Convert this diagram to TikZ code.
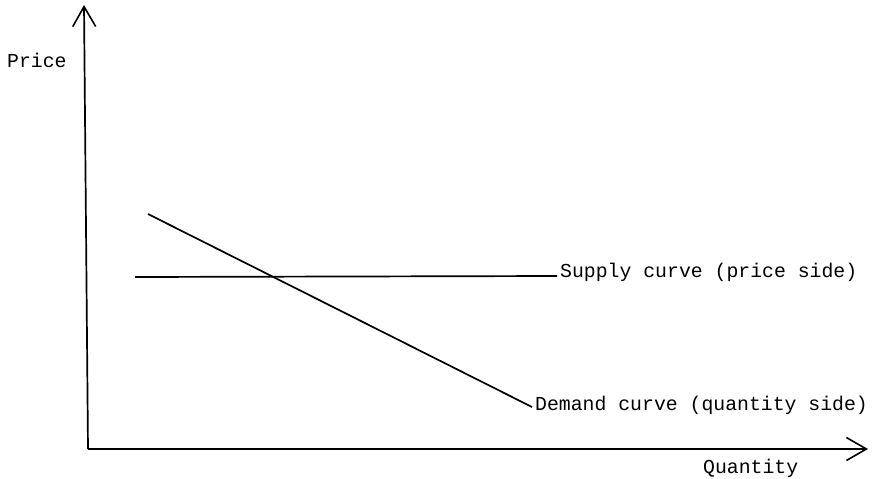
\documentclass[tikz,border=0pt]{standalone}
\usepackage{fontspec}
\setmonofont{Liberation Mono}
\usetikzlibrary{arrows.meta}
\tikzset{
  axisline/.style={line width=1.7pt, -{Straight Barb[length=20pt,width=23pt,line width=1.6pt]}},
  curveline/.style={line width=1.7pt},
  lbl/.style={font=\ttfamily\fontsize{19.8}{24}\selectfont, inner sep=0pt},
}
\begin{document}
\begin{tikzpicture}[x=1pt,y=-1pt]
\useasboundingbox (0,0) rectangle (878,479);
\coordinate (O) at (88,449);
\coordinate (ytop) at (84,5);
\coordinate (xend) at (868,449);
\draw[axisline] (O) -- (ytop);
\draw[axisline] (O) -- (xend);
\coordinate (s1) at (135,277);
\coordinate (s2) at (557,276);
\coordinate (d1) at (148,214);
\coordinate (d2) at (532,407);
\draw[curveline] (s1) -- (s2);
\draw[curveline] (d1) -- (d2);
\node[lbl, anchor=base west] (price) at (7,67) {Price};
\node[lbl, anchor=base west] (qty) at (703,473) {Quantity};
\node[lbl, anchor=base west] (supply) at (560,277) {Supply curve (price side)};
\node[lbl, anchor=base west] (demand) at (535,410) {Demand curve (quantity side)};
\end{tikzpicture}
\end{document}
